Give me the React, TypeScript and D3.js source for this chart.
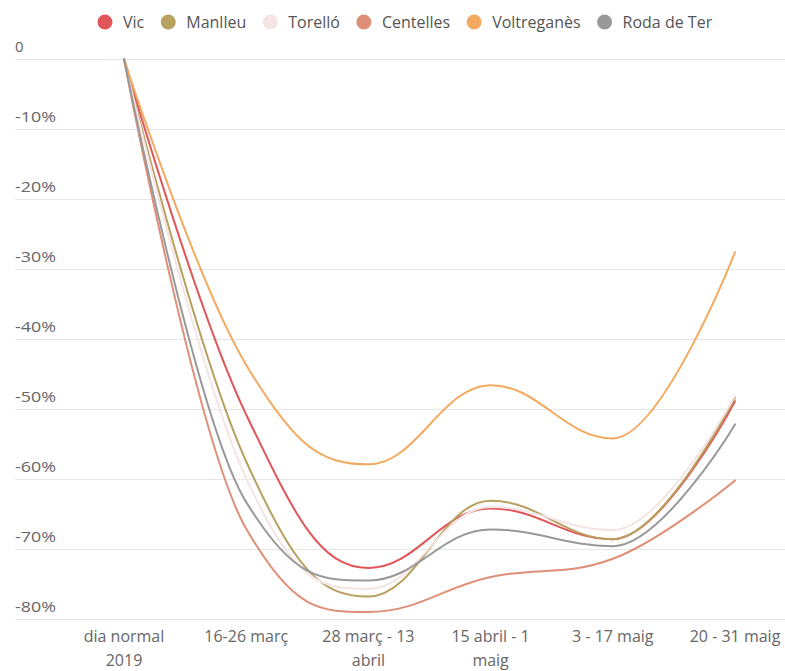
import React, { useEffect, useRef } from "react";
import * as d3 from "d3";

const categories = [
  ["dia normal", "2019"],
  ["16-26 març"],
  ["28 març - 13", "abril"],
  ["15 abril - 1", "maig"],
  ["3 - 17 maig"],
  ["20 - 31 maig"],
];

const seriesNames = ["Vic", "Manlleu", "Torelló", "Centelles", "Voltreganès", "Roda de Ter"];
const seriesColors = ["#e15559", "#b8a060", "#f4e4e4", "#df8f77", "#f3aa60", "#999999"];

const vic = [0, -50.8, -72.7, -64.2, -68.6, -48.9];
const manlleu = [0, -57.5, -76.8, -63.1, -68.6, -48.4];
const torello = [0, -59.9, -75.7, -64.0, -67.3, -48.1];
const centelles = [0, -67.1, -79.0, -74.0, -71.4, -60.2];
const voltreganes = [0, -43.7, -57.9, -46.6, -54.2, -27.6];
const rodaDeTer = [0, -63.3, -74.5, -67.2, -69.6, -52.2];

const seriesValues = [vic, manlleu, torello, centelles, voltreganes, rodaDeTer];
const yTicks = [0, -10, -20, -30, -40, -50, -60, -70, -80];

// spline like highcharts (smoothing 1.5, no overshoot at extremes)
const splineCurve = (context: any) => {
  let pts: number[][] = [];
  return {
    areaStart() {},
    areaEnd() {},
    lineStart() {
      pts = [];
    },
    point(x: number, y: number) {
      pts.push([+x, +y]);
    },
    lineEnd() {
      const n = pts.length;
      const cont = pts.map((p, i) => {
        if (i === 0 || i === n - 1) return null;
        const [lx, ly] = pts[i - 1];
        const [x, y] = p;
        const [nx, ny] = pts[i + 1];
        const lcx = (1.5 * x + lx) / 2.5;
        const rcx = (1.5 * x + nx) / 2.5;
        let lcy = (1.5 * y + ly) / 2.5;
        let rcy = (1.5 * y + ny) / 2.5;
        const corr = ((rcy - lcy) * (rcx - x)) / (rcx - lcx) + y - rcy;
        lcy += corr;
        rcy += corr;
        if (lcy > ly && lcy > y) {
          lcy = Math.max(ly, y);
          rcy = 2 * y - lcy;
        } else if (lcy < ly && lcy < y) {
          lcy = Math.min(ly, y);
          rcy = 2 * y - lcy;
        }
        if (rcy > ny && rcy > y) {
          rcy = Math.max(ny, y);
          lcy = 2 * y - rcy;
        } else if (rcy < ny && rcy < y) {
          rcy = Math.min(ny, y);
          lcy = 2 * y - rcy;
        }
        return { lcx, lcy, rcx, rcy };
      });
      context.moveTo(pts[0][0], pts[0][1]);
      for (let i = 1; i < n; i++) {
        const a = cont[i - 1];
        const b = cont[i];
        context.bezierCurveTo(
          a ? a.rcx : pts[i - 1][0],
          a ? a.rcy : pts[i - 1][1],
          b ? b.lcx : pts[i][0],
          b ? b.lcy : pts[i][1],
          pts[i][0],
          pts[i][1]
        );
      }
    },
  };
};

const App = () => {
  const ref = useRef<SVGSVGElement>(null);

  const width = 785;
  const height = 671;
  const font = "'Open Sans', sans-serif";

  useEffect(() => {
    const svg = d3.select(ref.current);
    svg.selectAll("*").remove();

    const x = d3
      .scalePoint<number>()
      .domain(d3.range(categories.length))
      .range([124, 735]);
    const y = d3.scaleLinear().domain([-80, 0]).range([619, 59]);

    // grid + y labels
    const grid = svg.append("g");
    grid
      .selectAll("line")
      .data(yTicks)
      .join("line")
      .attr("x1", 15)
      .attr("x2", width)
      .attr("y1", (d) => Math.round(y(d)) + 0.5)
      .attr("y2", (d) => Math.round(y(d)) + 0.5)
      .attr("stroke", "#e6e6e6")
      .attr("stroke-width", 1);
    grid
      .selectAll("text")
      .data(yTicks)
      .join("text")
      .attr("x", 15)
      .attr("y", (d) => y(d) - 7)
      .attr("font-family", font)
      .attr("font-size", 15)
      .attr("fill", "#666")
      .attr("textLength", (d) => (d === 0 ? null : 41))
      .attr("lengthAdjust", "spacingAndGlyphs")
      .text((d) => (d === 0 ? "0" : d + "%"));

    // x labels
    svg
      .append("g")
      .selectAll("text")
      .data(categories)
      .join("text")
      .attr("x", (d, i) => x(i)!)
      .attr("y", 642)
      .attr("text-anchor", "middle")
      .attr("font-family", font)
      .attr("font-size", 16)
      .attr("fill", "#666")
      .each(function (d) {
        const t = d3.select(this);
        d.forEach((line, j) => {
          t.append("tspan")
            .attr("x", t.attr("x"))
            .attr("dy", j === 0 ? 0 : 24)
            .text(line);
        });
      });

    // lines
    const line = d3
      .line<number>()
      .x((d, i) => x(i)!)
      .y((d) => y(d))
      .curve(splineCurve as any);

    svg
      .append("g")
      .selectAll("path")
      .data(seriesValues)
      .join("path")
      .attr("d", (d) => line(d))
      .attr("fill", "none")
      .attr("stroke", (d, i) => seriesColors[i])
      .attr("stroke-width", 2)
      .attr("stroke-linejoin", "round")
      .attr("stroke-linecap", "round");

    // legend
    const legend = svg.append("g");
    const items = legend
      .selectAll("g")
      .data(seriesNames)
      .join("g");
    items
      .append("circle")
      .attr("cx", 0)
      .attr("cy", 22)
      .attr("r", 7.5)
      .attr("fill", (d, i) => seriesColors[i]);
    items
      .append("text")
      .attr("x", 18)
      .attr("y", 28)
      .attr("font-family", font)
      .attr("font-size", 16)
      .attr("fill", "#555")
      .text((d) => d);

    let pos = 0;
    items.each(function () {
      const g = d3.select(this);
      g.attr("transform", "translate(" + pos + ",0)");
      const w = (g.select("text").node() as SVGTextElement).getComputedTextLength();
      pos += 18 + w + 24;
    });
    legend.attr("transform", "translate(105,0)");
  }, []);

  return (
    <svg
      ref={ref}
      width={width}
      height={height}
      style={{ position: "absolute", left: 0, top: 0, background: "#fff" }}
    />
  );
};

export default App;
